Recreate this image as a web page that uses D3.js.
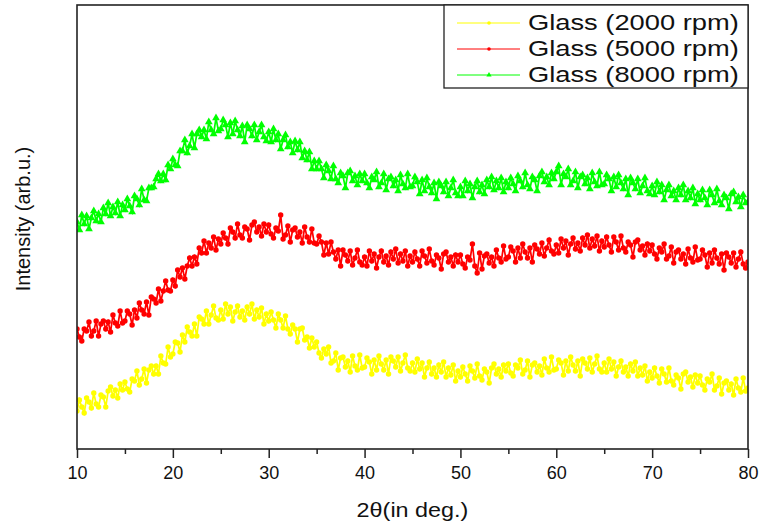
<!DOCTYPE html>
<html><head><meta charset="utf-8">
<script src="https://cdn.jsdelivr.net/npm/d3@7"></script>
<style>html,body{margin:0;padding:0;background:#fff;}svg{display:block;}</style>
</head><body>
<script>
// 2θ grid: 10° to 80° in 0.25° steps
const twoThetaStart = 10, twoThetaStep = 0.25;
const seriesNames = ["Glass (2000 rpm)", "Glass (5000 rpm)", "Glass (8000 rpm)"];
const seriesColors = ["#ffff00", "#ff0000", "#00ff00"];
const xTicks = [10, 20, 30, 40, 50, 60, 70, 80];
const xMinorTicks = [15, 25, 35, 45, 55, 65, 75];

const glass2000 = [
38,49,42,36, 51,47,41,56, 45,42,54,52, 42,58,62,53, 59,51,65,59,
67,60,57,70, 68,78,64,70, 80,66,79,83, 75,83,75,93, 86,85,102,92,
95,107,106,97, 114,107,122,117, 113,125,113,132, 130,125,138,125, 134,143,131,129,
139,130,145,135, 142,128,137,143, 132,138,129,142, 135,145,130,139, 132,141,125,135,
128,137,129,121, 135,129,121,133, 120,115,124,120, 107,120,121,109, 112,101,111,102,
107,96,91,100, 95,102,86,88, 96,79,91,92, 82,88,77,93, 83,79,94,81,
82,91,87,75, 89,79,93,85, 79,89,75,92, 88,82,92,78, 86,94,81,78,
86,77,90,80, 86,72,81,87, 75,81,72,84, 77,87,72,81, 74,84,68,78,
72,82,75,68, 83,78,71,85, 73,69,80,77, 66,81,85,75, 80,72,84,78,
85,76,73,84, 81,89,75,79, 88,72,84,86, 77,83,74,90, 81,77,92,79,
80,89,86,74, 88,78,92,84, 78,88,73,90, 86,80,91,77, 85,93,80,77,
86,77,90,80, 87,73,82,88, 77,82,73,85, 78,87,73,81, 74,83,68,77,
71,81,73,66, 80,75,67,81, 68,64,74,71, 60,75,77,67, 72,62,74,66,
73,64,59,70, 67,75,59,63, 71,55,66,68, 59,65,54,70, 61,57,71,58,
61];

const glass5000 = [
120,112,108,120, 118,127,113,118, 128,113,125,128, 120,127,117,134, 126,123,138,126,
128,138,135,124, 139,131,146,139, 135,147,134,152, 150,146,160,148, 158,168,159,158,
169,163,179,172, 181,170,183,191, 183,192,185,201, 196,208,196,206, 201,212,199,210,
205,216,211,205, 221,217,211,225, 214,211,222,220, 209,224,227,217, 222,213,225,217,
224,215,211,221, 218,234,210,214, 223,207,219,221, 212,217,206,222, 212,207,220,206,
205,213,207,194, 206,195,207,197, 190,199,183,199, 194,188,198,184, 191,199,187,184,
192,183,198,188, 195,181,192,198, 187,193,184,197, 190,200,186,195, 188,198,183,193,
187,197,190,183, 198,193,186,200, 188,184,194,191, 180,195,197,187, 192,183,194,187,
194,185,181,192, 189,205,183,176, 196,180,193,195, 186,192,183,199, 191,187,203,190,
192,202,198,187, 201,191,205,197, 191,201,187,204, 200,195,206,193, 201,209,198,195,
204,196,210,201, 208,194,205,211, 200,206,198,211, 204,214,201,210, 203,213,198,208,
202,212,204,197, 212,207,199,213, 201,197,207,204, 192,207,209,199, 203,194,205,198,
204,195,190,201, 197,205,190,193, 202,186,197,199, 190,195,185,200, 191,187,202,189,
190,199,194,182, 196,186,199,191, 185,195,179,196, 192,186,196,182, 190,197,185,181,
187];

const glass8000 = [
227,219,234,225, 233,220,231,238, 228,235,227,241, 235,246,233,242, 236,247,233,244,
239,250,243,237, 253,250,244,260, 249,248,261,261, 262,270,275,268, 275,269,284,280,
290,284,283,298, 298,309,296,303, 315,301,315,319, 312,319,310,327, 319,315,331,318,
320,329,324,312, 326,315,328,319, 313,323,307,324, 320,313,324,309, 317,324,312,308,
317,307,320,309, 315,300,309,314, 302,307,296,308, 299,307,291,298, 289,297,280,288,
280,288,280,271, 284,278,270,283, 270,266,276,273, 261,276,278,268, 273,264,275,268,
275,266,261,272, 269,277,262,266, 275,259,270,272, 263,269,258,274, 265,261,275,262,
263,272,267,255, 269,258,271,262, 256,266,250,267, 263,257,267,253, 261,269,256,253,
262,253,268,258, 265,251,262,268, 257,264,255,269, 262,272,259,268, 261,271,257,267,
261,271,265,258, 273,268,262,276, 264,260,272,269, 258,273,277,267, 272,264,276,270,
277,283,264,275, 272,280,264,268, 277,261,272,274, 265,271,260,276, 267,263,277,264,
265,274,270,258, 272,262,274,266, 260,270,254,271, 266,260,270,256, 263,271,258,255,
263,254,267,257, 264,249,259,264, 253,258,249,261, 254,264,249,258, 251,261,245,255,
249,259,251,244, 259,254,246,260, 248,244,254,251, 240,255,257,247, 252,242,254,246,
247];

const seriesValues = [glass2000, glass5000, glass8000];
const markerTypes = ["circle", "circle", "triangle"];

const W = 763, H = 527;
const m = {left: 77, right: 15, top: 5, bottom: 78};
const svg = d3.select("body").append("svg").attr("width", W).attr("height", H);

const x = d3.scaleLinear().domain([10, 80]).range([m.left, W - m.right]);
const y = d3.scaleLinear().domain([0, 444]).range([H - m.bottom, m.top]);
const font = "'Liberation Sans', Arial, sans-serif";

svg.append("clipPath").attr("id", "c").append("rect")
  .attr("x", m.left).attr("y", m.top).attr("width", x(80) - m.left).attr("height", y(0) - m.top);

const plot = svg.append("g").attr("clip-path", "url(#c)");
const tri = d3.symbol().type(d3.symbolTriangle).size(26);

seriesValues.forEach((vals, s) => {
  const pts = vals.map((v, i) => [twoThetaStart + i * twoThetaStep, v]);
  const g = plot.append("g");
  g.append("path").datum(pts)
    .attr("d", d3.line().x(d => x(d[0])).y(d => y(d[1])))
    .attr("fill", "none").attr("stroke", seriesColors[s]).attr("stroke-width", 1.7);
  if (markerTypes[s] === "triangle") {
    g.selectAll("path.m").data(pts).join("path").attr("class", "m")
      .attr("d", tri).attr("transform", d => `translate(${x(d[0])},${y(d[1])})`)
      .attr("fill", seriesColors[s]);
  } else {
    g.selectAll("circle").data(pts).join("circle")
      .attr("cx", d => x(d[0])).attr("cy", d => y(d[1]))
      .attr("r", 2.7).attr("fill", seriesColors[s]);
  }
});

// frame
svg.append("rect").attr("x", m.left).attr("y", m.top)
  .attr("width", x(80) - m.left).attr("height", y(0) - m.top)
  .attr("fill", "none").attr("stroke", "#222").attr("stroke-width", 1.6);

// x axis
const xAxis = d3.axisBottom(x).tickValues(xTicks).tickSize(9).tickSizeOuter(0).tickPadding(8);
const gx = svg.append("g").attr("transform", `translate(0,${y(0)})`).call(xAxis);
gx.select(".domain").remove();
gx.selectAll("line").attr("stroke", "#222").attr("stroke-width", 1.5);
gx.selectAll("text").attr("font-family", font).attr("font-size", 18).attr("fill", "#111");
const gxm = svg.append("g").attr("transform", `translate(0,${y(0)})`)
  .call(d3.axisBottom(x).tickValues(xMinorTicks).tickSize(5).tickSizeOuter(0).tickFormat(""));
gxm.select(".domain").remove();
gxm.selectAll("line").attr("stroke", "#222").attr("stroke-width", 1.5);

// axis titles
svg.append("text").attr("transform", `translate(${(m.left + x(80)) / 2},517) scale(1.17,1)`)
  .attr("text-anchor", "middle").attr("font-family", font).attr("font-size", 20).attr("fill", "#111")
  .text("2θ(in deg.)");
svg.append("text").attr("transform", `translate(30,219) rotate(-90)`)
  .attr("text-anchor", "middle").attr("font-family", font).attr("font-size", 20).attr("fill", "#111")
  .text("Intensity (arb.u.)");

// legend
const lg = svg.append("g");
lg.append("rect").attr("x", 444).attr("y", m.top).attr("width", x(80) - 444).attr("height", 83)
  .attr("fill", "#fff").attr("stroke", "#222").attr("stroke-width", 1.3);
seriesNames.forEach((name, s) => {
  const ly = 23 + s * 26;
  lg.append("line").attr("x1", 457).attr("x2", 520).attr("y1", ly).attr("y2", ly)
    .attr("stroke", seriesColors[s]).attr("stroke-width", 1);
  if (markerTypes[s] === "triangle") {
    lg.append("path").attr("d", d3.symbol().type(d3.symbolTriangle).size(12)).attr("transform", `translate(489,${ly})`).attr("fill", seriesColors[s]);
  } else {
    lg.append("circle").attr("cx", 489).attr("cy", ly).attr("r", 1.8).attr("fill", seriesColors[s]);
  }
  lg.append("text").attr("transform", `translate(528,${ly + 7}) scale(1.27,1)`)
    .attr("font-family", font).attr("font-size", 21.5).attr("fill", "#111").text(name);
});
</script>
</body></html>
